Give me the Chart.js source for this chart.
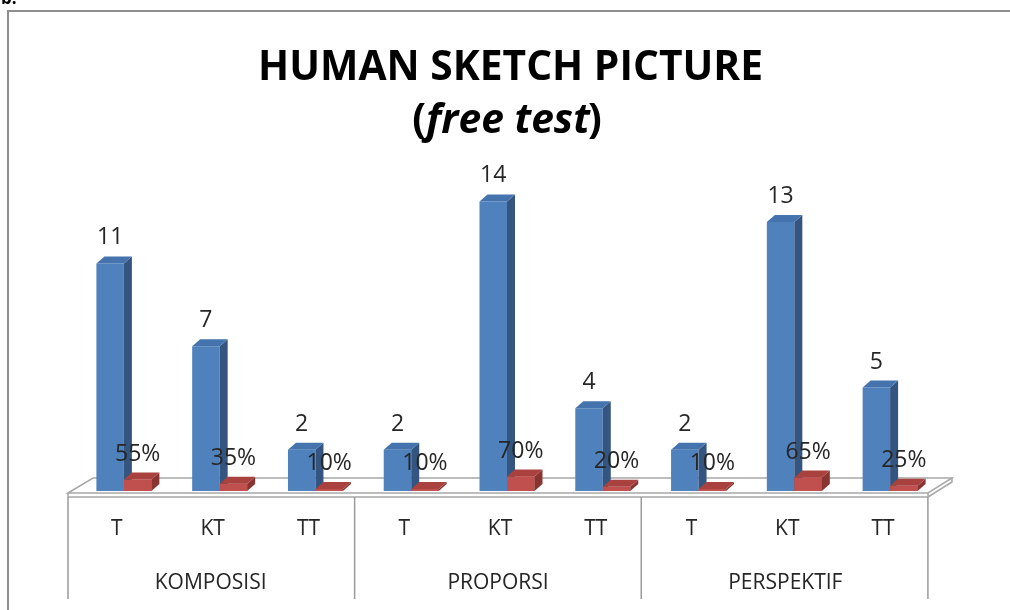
<!DOCTYPE html>
<html>
<head>
<meta charset="utf-8">
<script src="https://cdn.jsdelivr.net/npm/chart.js@4/dist/chart.umd.min.js"></script>
<style>
  html, body { margin: 0; padding: 0; background: #ffffff; }
  #wrap { width: 1010px; height: 610px; position: relative; }
</style>
</head>
<body>
<div id="wrap"><canvas id="c" width="1010" height="610"></canvas></div>
<script>
// Sketch test results: number of students per rating, and the share of the class
const categories = ['T', 'KT', 'TT', 'T', 'KT', 'TT', 'T', 'KT', 'TT'];
const groups = ['KOMPOSISI', 'PROPORSI', 'PERSPEKTIF'];
const counts = [11, 7, 2, 2, 14, 4, 2, 13, 5];
const shares = [0.55, 0.35, 0.10, 0.10, 0.70, 0.20, 0.10, 0.65, 0.25];
const titleMain = 'HUMAN SKETCH PICTURE';
const titleSub = 'free test';
const caption = 'b.';

// depth of the pseudo-3D extrusion
const DX = 8, DY = 7;
const faces = [
  { side: '#34557f', top: '#4473ad' },
  { side: '#8a3432', top: '#a9423f' }
];
const FONT = "'Open Sans', 'DejaVu Sans', sans-serif";

function extrude(ctx, p, col) {
  const l = p.x - p.width / 2, r = p.x + p.width / 2, t = p.y, b = p.base;
  ctx.fillStyle = col.side;
  ctx.beginPath();
  ctx.moveTo(r, t); ctx.lineTo(r + DX, t - DY); ctx.lineTo(r + DX, b - DY); ctx.lineTo(r, b);
  ctx.closePath(); ctx.fill();
  ctx.fillStyle = col.top;
  ctx.beginPath();
  ctx.moveTo(l, t); ctx.lineTo(l + DX, t - DY); ctx.lineTo(r + DX, t - DY); ctx.lineTo(r, t);
  ctx.closePath(); ctx.fill();
}

const depthPlugin = {
  id: 'depth',
  beforeDraw(chart) {
    const ctx = chart.ctx;
    ctx.save();
    // outer frame
    ctx.strokeStyle = '#8e8e8e';
    ctx.lineWidth = 2;
    ctx.beginPath();
    ctx.moveTo(1010, 11); ctx.lineTo(8, 11); ctx.lineTo(8, 610);
    ctx.stroke();
    // caption peeking above the frame
    ctx.fillStyle = '#000';
    ctx.font = 'bold 17px ' + FONT;
    ctx.textBaseline = 'alphabetic';
    ctx.fillText(caption, 1, 4);

    // title
    ctx.fillStyle = '#000';
    ctx.textAlign = 'left';
    ctx.font = 'bold 42px ' + FONT;
    const w1 = ctx.measureText(titleMain).width;
    const sx = 505 / w1;
    ctx.save();
    ctx.translate(510.5 - 505 / 2, 80);
    ctx.scale(sx, 1);
    ctx.fillText(titleMain, 0, 0);
    ctx.restore();

    const fUp = 'bold 42px ' + FONT, fIt = 'italic bold 42px ' + FONT;
    ctx.font = fUp; const wp1 = ctx.measureText('(').width;
    ctx.font = fIt; const wm = ctx.measureText(titleSub).width;
    ctx.font = fUp; const wp2 = ctx.measureText(')').width;
    const gap = -2;
    const total = (wp1 + wm + wp2 + gap) * sx;
    ctx.save();
    ctx.translate(507 - total / 2, 133);
    ctx.scale(sx, 1);
    ctx.font = fUp; ctx.fillText('(', 0, 0);
    ctx.font = fIt; ctx.fillText(titleSub, wp1, 0);
    ctx.font = fUp; ctx.fillText(')', wp1 + wm + gap, 0);
    ctx.restore();
    ctx.restore();
  },
  beforeDatasetsDraw(chart) {
    const ctx = chart.ctx, a = chart.chartArea;
    const base = chart.scales.y.getPixelForValue(0);
    const fl = a.left - 8, fr = a.right - 10, bl = a.left + 17, br = a.right + 14;
    const yf = base + 2, yb = base - 13, ys = base + 6;
    ctx.save();
    ctx.strokeStyle = '#a8a8a8';
    ctx.lineWidth = 1.5;
    ctx.fillStyle = '#ffffff';
    ctx.beginPath();
    ctx.moveTo(fl, yf); ctx.lineTo(bl, yb); ctx.lineTo(br, yb); ctx.lineTo(fr, yf);
    ctx.closePath(); ctx.fill(); ctx.stroke();
    ctx.beginPath();
    ctx.moveTo(fl, ys); ctx.lineTo(fr, ys);
    ctx.moveTo(fl, yf); ctx.lineTo(fl, ys);
    ctx.moveTo(fr, yf); ctx.lineTo(fr, ys);
    ctx.moveTo(fr, ys); ctx.lineTo(br, yb + 4); ctx.lineTo(br, yb);
    ctx.stroke();
    // group dividers below the floor
    const xs = chart.scales.x;
    const step = (xs.right - xs.left) / categories.length;
    ctx.strokeStyle = '#9a9a9a';
    ctx.lineWidth = 1.5;
    for (let k = 0; k <= groups.length; k++) {
      const x = xs.left + k * 3 * step - 8 - k * 0.7;
      ctx.beginPath();
      ctx.moveTo(x, ys); ctx.lineTo(x, 599);
      ctx.stroke();
    }
    ctx.restore();
  },
  afterDatasetsDraw(chart) {
    const ctx = chart.ctx;
    ctx.save();
    // count bars: side and top faces
    const blue = chart.getDatasetMeta(0).data;
    blue.forEach(el => extrude(ctx, el.getProps(['x', 'y', 'base', 'width'], true), faces[0]));
    // share bars stand in front of the count bars' side faces
    const red = chart.getDatasetMeta(1).data;
    red.forEach(el => {
      el.draw(ctx);
      extrude(ctx, el.getProps(['x', 'y', 'base', 'width'], true), faces[1]);
    });

    // value labels
    ctx.fillStyle = '#262626';
    ctx.font = '23px ' + FONT;
    ctx.textAlign = 'center';
    ctx.textBaseline = 'alphabetic';
    chart.data.datasets.forEach((ds, di) => {
      chart.getDatasetMeta(di).data.forEach((el, i) => {
        const p = el.getProps(['x', 'y'], true);
        const v = ds.data[i];
        const txt = di === 0 ? String(v) : Math.round(v * 100) + '%';
        ctx.fillText(txt, p.x, p.y - DY - 12);
      });
    });
    ctx.restore();
  }
};

new Chart(document.getElementById('c'), {
  type: 'bar',
  data: {
    labels: categories,
    datasets: [
      { label: 'Jumlah', data: counts, backgroundColor: '#4f81bd', clip: false },
      { label: 'Persentase', data: shares, backgroundColor: '#c0504d', clip: false }
    ]
  },
  options: {
    responsive: false,
    animation: false,
    devicePixelRatio: 1,
    layout: { padding: { left: 76, right: 72, top: 160, bottom: 0 } },
    datasets: { bar: { categoryPercentage: 0.574, barPercentage: 1, borderWidth: 0 } },
    plugins: { legend: { display: false }, tooltip: { enabled: false }, title: { display: false } },
    scales: {
      y: { display: false, min: 0, max: 16 },
      x: {
        weight: 0,
        offset: true,
        grid: { display: false, drawTicks: false },
        border: { display: false },
        ticks: { font: { family: FONT, size: 21 }, color: '#262626', padding: 25, labelOffset: -7, autoSkip: false, maxRotation: 0 },
        afterFit(s) { s.height = 60; }
      },
      grp: {
        type: 'category',
        labels: groups,
        position: 'bottom',
        weight: 1,
        offset: true,
        grid: { display: false, drawTicks: false },
        border: { display: false },
        ticks: { font: { family: FONT, size: 21 }, color: '#262626', padding: 19, labelOffset: -9, autoSkip: false, maxRotation: 0 },
        afterFit(s) { s.height = 59; }
      }
    }
  },
  plugins: [depthPlugin]
});
</script>
</body>
</html>
